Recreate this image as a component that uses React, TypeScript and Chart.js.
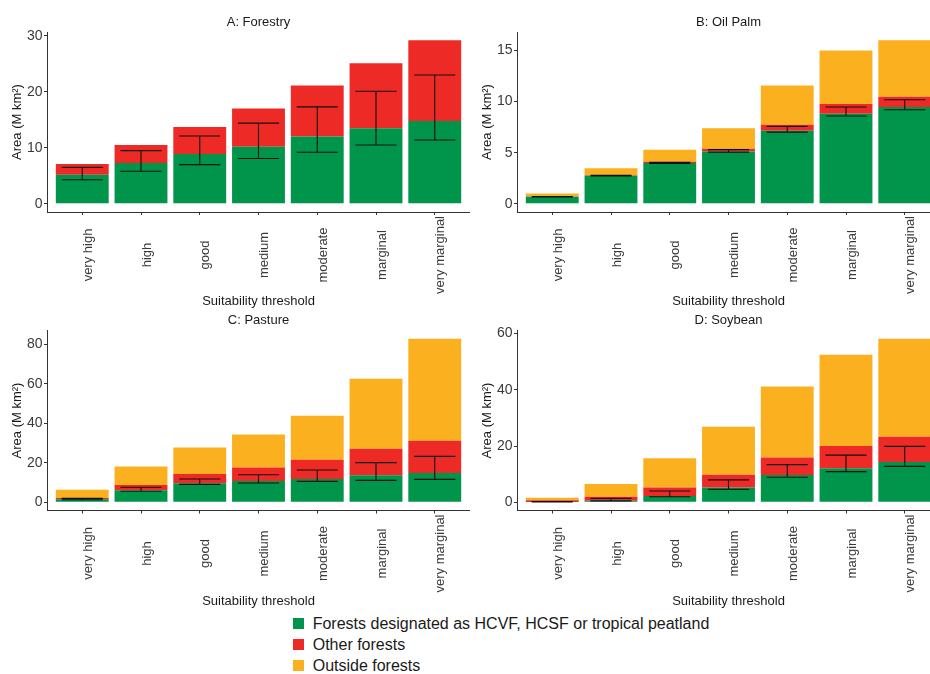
import React, { useEffect, useRef } from "react";
import { Chart, registerables } from "chart.js";

Chart.register(...registerables);

const categories = ["very high", "high", "good", "medium", "moderate", "marginal", "very marginal"];

const forestryHcvf = [5.2, 7.3, 8.9, 10.2, 12.0, 13.5, 14.8];
const forestryOther = [1.9, 3.2, 4.8, 6.8, 9.1, 11.6, 14.4];
const forestryErrLow = [4.3, 5.8, 7.0, 8.1, 9.2, 10.5, 11.4];
const forestryErrHigh = [6.5, 9.5, 12.1, 14.4, 17.3, 20.1, 23.0];

const oilPalmHcvf = [0.68, 2.74, 3.98, 5.12, 7.14, 8.8, 9.46];
const oilPalmOther = [0.04, 0.06, 0.13, 0.26, 0.59, 0.95, 1.01];
const oilPalmOutside = [0.29, 0.69, 1.17, 2.02, 3.85, 5.25, 5.53];
const oilPalmErrLow = [0.68, 2.72, 3.95, 5.05, 7.01, 8.58, 9.2];
const oilPalmErrHigh = [0.72, 2.78, 4.07, 5.3, 7.57, 9.46, 10.18];

const pastureHcvf = [1.5, 6.1, 9.6, 10.8, 11.8, 13.7, 14.9];
const pastureOther = [0.7, 2.7, 4.7, 6.9, 9.8, 13.5, 16.3];
const pastureOutside = [4.2, 9.3, 13.5, 16.7, 22.3, 35.4, 51.7];
const pastureErrLow = [1.3, 5.6, 9.1, 9.8, 10.6, 11.1, 11.6];
const pastureErrHigh = [2.0, 7.6, 11.8, 14.0, 16.4, 20.1, 23.3];

const soybeanHcvf = [0.1, 0.6, 2.25, 5.3, 9.7, 12.1, 14.3];
const soybeanOther = [0.6, 1.4, 3.05, 4.5, 6.2, 7.9, 9.0];
const soybeanOutside = [0.96, 4.5, 10.4, 17.1, 25.3, 32.5, 34.9];
const soybeanErrLow = [0.1, 0.5, 2.0, 4.6, 8.9, 10.9, 12.8];
const soybeanErrHigh = [0.25, 1.4, 4.0, 8.0, 13.4, 16.8, 19.9];

const seriesNames = [
  "Forests designated as HCVF, HCSF or tropical peatland",
  "Other forests",
  "Outside forests",
];
const panelTitles = ["A: Forestry", "B: Oil Palm", "C: Pasture", "D: Soybean"];
const yTickSteps = [10, 5, 20, 20];

const GREEN = "#00954A";
const RED = "#EE2A26";
const ORANGE = "#FBB01F";
const seriesColors = [GREEN, RED, ORANGE];

const FONT = "'Liberation Sans', Arial, Helvetica, sans-serif";
const TICK_COLOR = "#3a3a3a";
const AXIS_COLOR = "#333333";

type PanelProps = {
  title: string;
  series: number[][];
  errLow: number[];
  errHigh: number[];
  step: number;
  left: number;
  top: number;
  width: number;
  height: number;
  padTop: number;
  titleY: number;
  xHeight: number;
};

function Panel(p: PanelProps) {
  const ref = useRef<HTMLCanvasElement | null>(null);
  useEffect(() => {
    if (!ref.current) return;
    const totals = categories.map((_, i) => p.series.reduce((s, d) => s + d[i], 0));
    const maxTotal = Math.max(...totals);

    const errorBars = {
      id: "errorBars",
      afterDatasetsDraw(chart: any) {
        const { ctx } = chart;
        const x = chart.scales.x;
        const y = chart.scales.y;
        ctx.save();
        ctx.strokeStyle = "#111111";
        ctx.lineWidth = 1.1;
        p.errLow.forEach((lo, i) => {
          const hi = p.errHigh[i];
          const cx = x.getPixelForValue(i);
          const x0 = x.getPixelForValue(i - 0.35);
          const x1 = x.getPixelForValue(i + 0.35);
          const yl = y.getPixelForValue(lo);
          const yh = y.getPixelForValue(hi);
          ctx.beginPath();
          ctx.moveTo(x0, yh);
          ctx.lineTo(x1, yh);
          ctx.moveTo(cx, yh);
          ctx.lineTo(cx, yl);
          ctx.moveTo(x0, yl);
          ctx.lineTo(x1, yl);
          ctx.stroke();
        });
        ctx.restore();
      },
    };

    const texts = {
      id: "panelTexts",
      afterDraw(chart: any) {
        const { ctx, chartArea } = chart;
        const x = chart.scales.x;
        ctx.save();
        ctx.font = `13px ${FONT}`;
        ctx.textAlign = "center";
        ctx.textBaseline = "middle";
        ctx.fillStyle = "#1a1a1a";
        ctx.fillText(p.title, (chartArea.left + chartArea.right) / 2, p.titleY);
        ctx.fillStyle = TICK_COLOR;
        categories.forEach((c, i) => {
          const px = x.getPixelForValue(i);
          ctx.save();
          ctx.translate(px + 6, x.top + 43);
          ctx.rotate(-Math.PI / 2);
          ctx.fillText(c, 0, 0);
          ctx.restore();
        });
        ctx.restore();
      },
    };

    const chart = new Chart(ref.current, {
      type: "bar",
      data: {
        datasets: p.series.map((vals, k) => ({
          label: seriesNames[k],
          data: vals.map((v, i) => ({ x: i, y: v })),
          backgroundColor: seriesColors[k],
          borderWidth: 0,
          categoryPercentage: 1,
          barPercentage: 0.9,
        })),
      },
      options: {
        animation: false,
        responsive: false,
        maintainAspectRatio: false,
        layout: { padding: { top: p.padTop, left: 0, right: 0, bottom: 0 } },
        plugins: {
          legend: { display: false },
          tooltip: { enabled: false },
          title: { display: false },
        },
        scales: {
          x: {
            type: "linear",
            offset: false,
            min: -0.6,
            max: categories.length - 0.4,
            stacked: true,
            grid: {
              display: true,
              offset: false,
              drawOnChartArea: false,
              drawTicks: true,
              tickLength: 3,
              tickColor: AXIS_COLOR,
            },
            border: { display: true, color: AXIS_COLOR, width: 1 },
            ticks: {
              stepSize: 1,
              includeBounds: false,
              autoSkip: false,
              minRotation: 90,
              maxRotation: 90,
              color: "rgba(0,0,0,0)",
              font: { family: FONT, size: 13 },
              callback: (v: any) => categories[v as number] ?? "",
            },
            title: {
              display: true,
              text: "Suitability threshold",
              color: "#1a1a1a",
              font: { family: FONT, size: 13 },
              padding: { top: 0, bottom: 0.5 },
            },
            afterFit: (s: any) => {
              s.height = p.xHeight;
            },
          },
          y: {
            type: "linear",
            stacked: true,
            min: -0.05 * maxTotal,
            max: 1.05 * maxTotal,
            grid: {
              display: true,
              drawOnChartArea: false,
              drawTicks: true,
              tickLength: 3,
              tickColor: AXIS_COLOR,
            },
            border: { display: true, color: AXIS_COLOR, width: 1 },
            ticks: {
              stepSize: p.step,
              includeBounds: false,
              color: TICK_COLOR,
              padding: 1.5,
              font: { family: FONT, size: 14 },
            },
            title: {
              display: true,
              text: "Area (M km²)",
              color: "#1a1a1a",
              font: { family: FONT, size: 13 },
              padding: { top: 9.5, bottom: 0 },
            },
            afterFit: (s: any) => {
              s.width = 47;
            },
          },
        },
      } as any,
      plugins: [errorBars, texts],
    });
    return () => chart.destroy();
  }, []);
  return (
    <canvas
      ref={ref}
      width={p.width}
      height={p.height}
      style={{ position: "absolute", left: p.left, top: p.top, width: p.width, height: p.height }}
    />
  );
}

export default function App() {
  return (
    <div
      style={{
        position: "absolute",
        left: 0,
        top: 0,
        width: 930,
        height: 674,
        overflow: "hidden",
        background: "#ffffff",
      }}
    >
      <Panel
        title={panelTitles[0]}
        series={[forestryHcvf, forestryOther]}
        errLow={forestryErrLow}
        errHigh={forestryErrHigh}
        step={yTickSteps[0]}
        left={0}
        top={0}
        width={470}
        height={310}
        padTop={32}
        titleY={22}
        xHeight={98}
      />
      <Panel
        title={panelTitles[1]}
        series={[oilPalmHcvf, oilPalmOther, oilPalmOutside]}
        errLow={oilPalmErrLow}
        errHigh={oilPalmErrHigh}
        step={yTickSteps[1]}
        left={470}
        top={0}
        width={470}
        height={310}
        padTop={32}
        titleY={22}
        xHeight={98}
      />
      <Panel
        title={panelTitles[2]}
        series={[pastureHcvf, pastureOther, pastureOutside]}
        errLow={pastureErrLow}
        errHigh={pastureErrHigh}
        step={yTickSteps[2]}
        left={0}
        top={310}
        width={470}
        height={300}
        padTop={20.5}
        titleY={10.3}
        xHeight={99.5}
      />
      <Panel
        title={panelTitles[3]}
        series={[soybeanHcvf, soybeanOther, soybeanOutside]}
        errLow={soybeanErrLow}
        errHigh={soybeanErrHigh}
        step={yTickSteps[3]}
        left={470}
        top={310}
        width={470}
        height={300}
        padTop={20.5}
        titleY={10.3}
        xHeight={99.5}
      />
      <div
        style={{
          position: "absolute",
          left: 293,
          top: 613,
          fontFamily: FONT,
          fontSize: 16,
          color: "#1a1a1a",
        }}
      >
        {seriesNames.map((name, k) => (
          <div key={name} style={{ display: "flex", alignItems: "center", height: 21, whiteSpace: "nowrap" }}>
            <span
              style={{
                display: "inline-block",
                width: 11,
                height: 11,
                background: seriesColors[k],
                marginRight: 8.7,
              }}
            />
            <span>{name}</span>
          </div>
        ))}
      </div>
    </div>
  );
}
